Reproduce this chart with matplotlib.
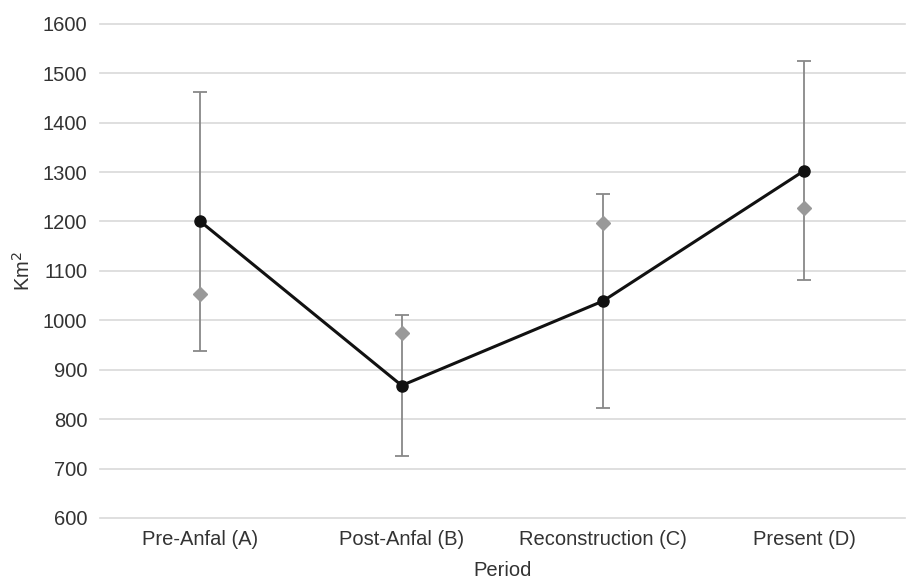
import matplotlib
matplotlib.use("Agg")
import matplotlib.pyplot as plt

categories = ["Pre-Anfal (A)", "Post-Anfal (B)", "Reconstruction (C)", "Present (D)"]
mean_values = [1200, 868, 1039, 1303]
error_values = [262, 142, 216, 221]
other_values = [1053, 975, 1197, 1227]
y_ticks = [600, 700, 800, 900, 1000, 1100, 1200, 1300, 1400, 1500, 1600]

plt.rcParams['font.family'] = ['Liberation Sans', 'DejaVu Sans']

fig = plt.figure(figsize=(9.06, 5.8), dpi=100)
ax = fig.add_axes([0.110, 0.107, 0.889, 0.852])

x = list(range(len(categories)))
ax.errorbar(x, mean_values, yerr=error_values, fmt='none', ecolor='#888888',
            elinewidth=1.3, capsize=5, capthick=1.3, zorder=2)
ax.plot(x, other_values, linestyle='none', marker='D', markersize=7,
        color='#999999', zorder=3)
ax.plot(x, mean_values, color='#111111', linewidth=2.2, marker='o',
        markersize=8, zorder=4)

ax.set_xlim(-0.5, 3.5)
ax.set_ylim(600, 1600)
ax.set_yticks(y_ticks)
ax.set_xticks(x)
ax.set_xticklabels(categories)
ax.grid(axis='y', color='#d9d9d9', linewidth=1.2)
for gl in ax.get_ygridlines():
    gl.set_clip_on(False)
ax.set_axisbelow(True)
for s in ax.spines.values():
    s.set_visible(False)
ax.tick_params(axis='both', length=0, labelsize=14.5, colors='#333333')
ax.tick_params(axis='y', pad=9)
ax.tick_params(axis='x', pad=9)
ax.set_xlabel("Period", fontsize=14.5, color='#333333', labelpad=8)
ax.set_ylabel("Km$^2$", fontsize=14.5, color='#333333', labelpad=6)

fig.savefig("out.png", dpi=100)
